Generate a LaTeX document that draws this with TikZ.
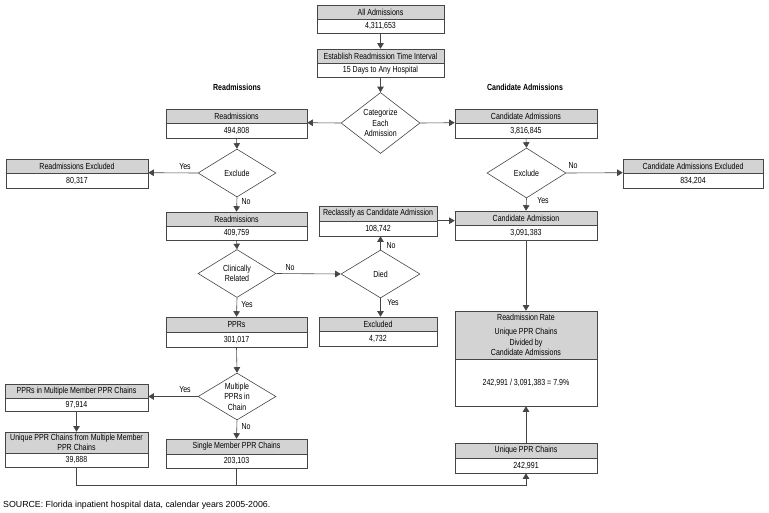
\documentclass[tikz,border=0pt]{standalone}
\usepackage{fontspec}
\setmainfont{Liberation Sans}
\newfontfamily\cf[FakeStretch=0.8]{Liberation Sans}
\usetikzlibrary{arrows.meta,shapes.geometric}
\definecolor{hdrgray}{RGB}{211,211,211}
\definecolor{lc}{RGB}{70,70,70}
\begin{document}
\begin{tikzpicture}[x=1pt,y=-1pt,
  cfont/.style={font=\cf\fontsize{8.8}{10.5}\selectfont},
  box/.style={draw=lc, line width=0.6pt, inner sep=0pt, cfont, align=center},
  hdr/.style={box, fill=hdrgray},
  val/.style={box, fill=white, path picture={\draw[line width=1.4pt, black!85] (path picture bounding box.north west) -- (path picture bounding box.north east);}},
  dia/.style={draw=lc, line width=0.6pt, diamond, inner sep=0pt, fill=white},
  dtext/.style={cfont, align=center, inner sep=0pt},
  conn/.style={draw=lc, line width=0.6pt},
  arr/.style={conn, -{Triangle[length=5.5pt,width=6.5pt]}},
  lbl/.style={cfont, inner sep=0pt},
  sec/.style={font=\cf\bfseries\fontsize{8.8}{10.5}\selectfont, inner sep=0pt}]
\useasboundingbox (0,0) rectangle (769,512);

% ---- boxes ----
\node[hdr, minimum width=127, minimum height=14] (all) at (380.5,12) {All Admissions};
\node[val, minimum width=127, minimum height=14] (all-v) at (380.5,26) {4,311,653};
\node[hdr, minimum width=127, minimum height=14] (est) at (380.5,56) {Establish Readmission Time Interval};
\node[val, minimum width=127, minimum height=14] (est-v) at (380.5,70) {15 Days to Any Hospital};

\node[hdr, minimum width=141, minimum height=14] (r1) at (236.5,116) {Readmissions};
\node[val, minimum width=141, minimum height=15] (r1-v) at (236.5,130.5) {494,808};
\node[hdr, minimum width=142, minimum height=14] (c1) at (526,116) {Candidate Admissions};
\node[val, minimum width=142, minimum height=15] (c1-v) at (526,130.5) {3,816,845};

\node[hdr, minimum width=142, minimum height=14] (rx) at (77,166) {Readmissions Excluded};
\node[val, minimum width=142, minimum height=15] (rx-v) at (77,180.5) {80,317};
\node[hdr, minimum width=140, minimum height=14] (cx) at (693,166) {Candidate Admissions Excluded};
\node[val, minimum width=140, minimum height=15] (cx-v) at (693,180.5) {834,204};

\node[hdr, minimum width=141, minimum height=14] (r2) at (236.5,219) {Readmissions};
\node[val, minimum width=141, minimum height=14] (r2-v) at (236.5,233) {409,759};
\node[hdr, minimum width=118, minimum height=15] (rc) at (378,213.5) {Reclassify as Candidate Admission};
\node[val, minimum width=118, minimum height=15] (rc-v) at (378,228.5) {108,742};
\node[hdr, minimum width=142, minimum height=14] (ca) at (526,218) {Candidate Admission};
\node[val, minimum width=142, minimum height=15] (ca-v) at (526,232.5) {3,091,383};

\node[hdr, minimum width=141, minimum height=15] (ppr) at (236.5,324.5) {PPRs};
\node[val, minimum width=141, minimum height=15] (ppr-v) at (236.5,339.5) {301,017};
\node[hdr, minimum width=118, minimum height=14] (ex) at (378,324) {Excluded};
\node[val, minimum width=118, minimum height=15] (ex-v) at (378,338.5) {4,732};

\node[hdr, minimum width=142, minimum height=48] (rate) at (526,335) {Readmission Rate\\[3.5pt]Unique PPR Chains\\Divided by\\Candidate Admissions};
\node[val, minimum width=142, minimum height=47] (rate-v) at (526,382.5) {242,991 / 3,091,383 = 7.9\%};

\node[hdr, minimum width=143, minimum height=14] (pm) at (76.5,391) {PPRs in Multiple Member PPR Chains};
\node[val, minimum width=143, minimum height=13] (pm-v) at (76.5,404.5) {97,914};
\node[hdr, minimum width=143, minimum height=21] (um) at (76.5,442.5) {Unique PPR Chains from Multiple Member\\PPR Chains};
\node[val, minimum width=143, minimum height=14] (um-v) at (76.5,460) {39,888};
\node[hdr, minimum width=141, minimum height=15] (sm) at (236.5,446.5) {Single Member PPR Chains};
\node[val, minimum width=141, minimum height=14] (sm-v) at (236.5,461) {203,103};
\node[hdr, minimum width=142, minimum height=15] (up) at (526,450.5) {Unique PPR Chains};
\node[val, minimum width=142, minimum height=15] (up-v) at (526,465.5) {242,991};

% ---- diamonds ----
\node[dia, minimum width=79, minimum height=61] (cat) at (380.5,123) {};
\node[dtext] at (cat) {Categorize\\Each\\Admission};
\node[dia, minimum width=78, minimum height=48] (exl) at (237,173) {};
\node[dtext] at (exl) {Exclude};
\node[dia, minimum width=79, minimum height=50] (exr) at (526.5,173) {};
\node[dtext] at (exr) {Exclude};
\node[dia, minimum width=78, minimum height=48] (cli) at (237,273.5) {};
\node[dtext] at (cli) {Clinically\\Related};
\node[dia, minimum width=79, minimum height=48] (died) at (380.5,274) {};
\node[dtext] at (died) {Died};
\node[dia, minimum width=78, minimum height=47] (mul) at (237,396.5) {};
\node[dtext] at (mul) {Multiple\\PPRs in\\Chain};

% ---- section titles ----
\node[sec] (t1) at (237,87) {Readmissions};
\node[sec] (t2) at (525,87) {Candidate Admissions};

% ---- connectors ----
\draw[arr] (all-v.south) -- (est.north);
\draw[arr] (est-v.south) -- (cat.north);
\draw[arr] (cat.west) -- (r1-v.north east);
\draw[arr] (cat.east) -- (c1-v.north west);
\draw[arr] (r1-v.south) -- (exl.north);
\draw[arr] (exl.west) -- (rx-v.north east);
\draw[arr] (exl.south) -- (r2.north);
\draw[arr] (r2-v.south) -- (cli.north);
\draw[arr] (cli.east) -- (died.west);
\draw[arr] (cli.south) -- (ppr.north);
\draw[arr] (died.north) -- (died.north |- rc-v.south);
\draw[arr] (died.south) -- (died.south |- ex.north);
\draw[arr] (rc-v.north east) -- (rc-v.north east -| ca.west);
\draw[arr] (c1-v.south) -- (exr.north);
\draw[arr] (exr.east) -- (cx-v.north west);
\draw[arr] (exr.south) -- (ca.north);
\draw[arr] (ca-v.south) -- (rate.north);
\draw[arr] (ppr-v.south) -- (mul.north);
\draw[arr] (mul.west) -- (mul.west -| pm-v.east);
\draw[arr] (mul.south) -- (sm.north);
\draw[arr] (pm-v.south) -- (um.north);
\coordinate (bus) at (300,485.5);
\draw[arr] (um-v.south) -- (um-v.south |- bus) -| (up-v.south);
\draw[conn] (sm-v.south) -- (sm-v.south |- bus);
\draw[arr] (up.north) -- (rate-v.south);

% ---- edge labels ----
\node[lbl] at (185,167) {Yes};
\node[lbl] at (246,202) {No};
\node[lbl] at (290,268) {No};
\node[lbl] at (247,305) {Yes};
\node[lbl] at (391,246) {No};
\node[lbl] at (393,303) {Yes};
\node[lbl] at (573,166) {No};
\node[lbl] at (543,201) {Yes};
\node[lbl] at (185,390) {Yes};
\node[lbl] at (246,427) {No};

% ---- source ----
\node[anchor=base west, inner sep=0pt, font=\fontsize{8.8}{10}\selectfont] (src) at (3,507) {SOURCE: Florida inpatient hospital data, calendar years 2005-2006.};
\end{tikzpicture}
\end{document}
